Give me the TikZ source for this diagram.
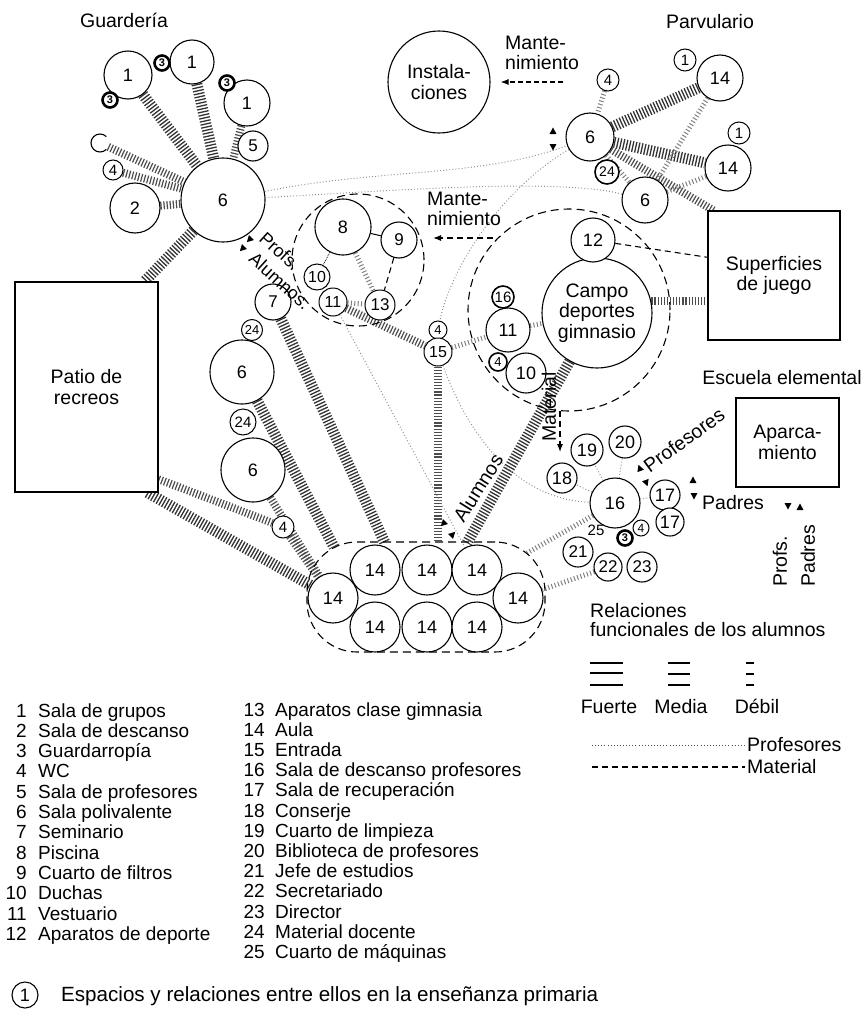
\documentclass[tikz,border=0pt]{standalone}
\usepackage{fontspec}
\setmainfont{Liberation Sans}
\usetikzlibrary{arrows.meta,calc}
\pgfdeclarelayer{bg}
\pgfsetlayers{bg,main}
\newcommand\labfont{\fontsize{19.5}{20.5}\selectfont}
\newcommand\mytri[2]{\fill[shift={(#1)},rotate=#2] (90:4.5pt)--(210:4pt)--(330:4pt)--cycle;}
\tikzset{
  rm/.style={circle,draw,fill=white,inner sep=0pt,line width=1.1pt,font=\fontsize{18}{18}\selectfont},
  rmid/.style={rm,font=\fontsize{17}{17}\selectfont},
  rsm/.style={rm,line width=1pt,font=\fontsize{15}{15}\selectfont},
  thr/.style={circle,draw,fill=white,inner sep=0pt,line width=2.6pt,minimum size=15pt,font=\bfseries\fontsize{11}{11}\selectfont},
  boxn/.style={draw,line width=1.1pt,align=center,font=\labfont,fill=white},
  lab/.style={font=\labfont,align=center,inner sep=0pt},
  hs/.style={line width=11pt,dash pattern=on 1.3pt off 1.8pt,draw=black!80},
  hm/.style={line width=8pt,dash pattern=on 1.2pt off 1.9pt,draw=black!70},
  hw/.style={line width=5pt,dash pattern=on 1pt off 2.4pt,draw=black!50},
  prof/.style={line width=1pt,dash pattern=on 0.9pt off 2.2pt,draw=black!45},
  mat/.style={line width=1.1pt,dash pattern=on 6pt off 4pt},
  env/.style={draw,line width=1.1pt,dash pattern=on 8pt off 5pt},
  tip/.style={-{Latex[length=8pt,width=6pt]}},
  lst/.style={font=\fontsize{19}{20}\selectfont,inner sep=0pt},
}
\begin{document}
\begin{tikzpicture}[x=1pt,y=-1pt]
\useasboundingbox (0,0) rectangle (867,1017);
% titles
\node[lab] (tguard) at (124,20) {Guardería};
\node[lab] (tparv) at (710,22) {Parvulario};
\node[lab] (tesc) at (782,378) {Escuela elemental};

% Guarderia
\node[rm,minimum size=48pt] (g1a) at (128,75) {1};
\node[rm,minimum size=44pt] (g1b) at (192,62) {1};
\node[rm,minimum size=46pt] (g1c) at (247,103) {1};
\node[thr] (g3a) at (162,63) {3};
\node[thr] (g3b) at (110,100) {3};
\node[thr] (g3c) at (227,83) {3};
\node[circle,inner sep=0pt,minimum size=18pt] (garc) at (100,143) {};
\draw[line width=1.1pt] ([shift={(45:9pt)}]garc.center) arc[start angle=45,end angle=315,radius=9pt];
\node[rsm,minimum size=20pt] (g4) at (113,170) {4};
\node[rmid,minimum size=30pt] (g5) at (253,146) {5};
\node[rm,minimum size=50pt] (g2) at (135,208) {2};
\node[rm,minimum size=84pt] (g6) at (223,200) {6};
\node[boxn,minimum width=143pt,minimum height=210pt] (patio) at (86.5,387) {Patio de\\recreos};

% middle column
\node[rmid,minimum size=36pt] (n7) at (273,302) {7};
\node[rsm,minimum size=21pt,font=\fontsize{13}{13}\selectfont] (n24a) at (252,330) {24};
\node[rm,minimum size=64pt] (g6c) at (242,372) {6};
\node[rsm,minimum size=26pt] (n24b) at (243,422) {24};
\node[rm,minimum size=64pt] (g6d) at (253,470) {6};
\node[rsm,minimum size=22pt] (n4m) at (283,527) {4};

% pool
\node[env,circle,minimum size=132pt] (poold) at (358,260) {};
\node[rm,minimum size=56pt] (n8) at (343,227) {8};
\node[rmid,minimum size=36pt] (n9) at (399,240) {9};
\node[rsm,minimum size=26pt,font=\fontsize{16}{16}\selectfont] (n10) at (317,277) {10};
\node[rsm,minimum size=28pt,font=\fontsize{16}{16}\selectfont] (n11) at (333,302) {11};
\node[rsm,minimum size=30pt,font=\fontsize{17}{17}\selectfont] (n13) at (380,305) {13};
\node[lab,rotate=-42,font=\fontsize{18}{18}\selectfont] (lprofs) at (280,251) {Profs.};
\node[lab,rotate=-42,font=\fontsize{18}{18}\selectfont] (lalum) at (280,281) {Alumnos.};
\mytri{250,239}{135}
\mytri{243,248}{135}

% Instalaciones
\node[rm,minimum size=102pt,font=\labfont,align=center] (inst) at (439,82) {Instala-\\ciones};
\node[lab,align=left,anchor=west] (lmant1) at (505,53) {Mante-\\nimiento};
\coordinate (ma1) at (563,82);
\draw[mat,tip,dash pattern=on 5pt off 3pt] (ma1) -- ([xshift=10pt]inst.east);
\node[lab,align=left,anchor=west] (lmant2) at (427,209) {Mante-\\nimiento};
\coordinate (ma2s) at (493,238);
\coordinate (ma2t) at (433,238);
\draw[mat,tip] (ma2s) -- (ma2t);

% Parvulario
\node[rsm,minimum size=22pt] (pv1a) at (685,60) {1};
\node[rm,minimum size=46pt] (pvk1) at (720,78) {14};
\node[rsm,minimum size=22pt] (pv4) at (608,80) {4};
\node[rm,minimum size=48pt] (pv6) at (590,137) {6};
\node[rsm,minimum size=22pt] (pv1b) at (739,133) {1};
\node[rm,minimum size=46pt] (pvk2) at (728,168) {14};
\node[rsm,minimum size=24pt,line width=1.6pt,font=\fontsize{14}{14}\selectfont] (pv24) at (607,172) {24};
\node[rm,minimum size=46pt] (pv6b) at (645,200) {6};
\node[boxn,minimum width=132pt,minimum height=129pt] (sup) at (774,275.5) {Superficies\\de juego};
\mytri{553,132}{0}
\mytri{553,146}{180}

% Campo
\node[env,circle,minimum size=202pt] (campd) at (569,310) {};
\node[rm,minimum size=110pt,font=\labfont,align=center] (campo) at (597,313) {Campo\\deportes\\gimnasio};
\node[rm,minimum size=44pt] (cn12) at (593,240) {12};
\node[rsm,minimum size=22pt,line width=1.6pt] (cn16) at (503,297) {16};
\node[rm,minimum size=44pt] (cn11) at (508,330) {11};
\node[rsm,minimum size=18pt,line width=1.6pt,font=\fontsize{13}{13}\selectfont] (cn4) at (498,362) {4};
\node[rm,minimum size=40pt] (cn10) at (526,373) {10};

% Entrada
\node[rsm,minimum size=18pt,font=\fontsize{13}{13}\selectfont] (n4e) at (438,330) {4};
\node[rsm,minimum size=28pt,font=\fontsize{16}{16}\selectfont] (n15) at (438,352) {15};

% Aulas cluster
\node[env,rounded corners=50pt,minimum width=238pt,minimum height=110pt] (clu) at (426,597) {};
\foreach \nm/\px/\py in {ka/375/570,kb/427/570,kc/477/570,kl/333/598,kr/518/598,kd/375/627,ke/427/627,kf/477/627}
  \node[rm,minimum size=50pt] (\nm) at (\px,\py) {14};

% Administration
\node[rm,minimum size=32pt] (n19) at (587,450) {19};
\node[rm,minimum size=32pt] (n20) at (625,442) {20};
\node[rm,minimum size=30pt] (n18) at (562,478) {18};
\node[rm,minimum size=50pt] (n16) at (615,503) {16};
\node[rm,minimum size=30pt] (n17a) at (665,495) {17};
\node[rm,minimum size=28pt] (n17b) at (670,522) {17};
\node[lab,font=\fontsize{15}{15}\selectfont] (t25) at (596,530) {25};
\node[thr] (n3r) at (625,538) {3};
\node[rsm,minimum size=16pt,font=\fontsize{12}{12}\selectfont] (n4r) at (641,528) {4};
\node[rmid,minimum size=30pt] (n21) at (578,552) {21};
\node[rmid,minimum size=28pt] (n22) at (608,567) {22};
\node[rmid,minimum size=30pt] (n23) at (642,567) {23};

% labels right
\node[lab,rotate=90] (lmat) at (549,407) {Material};
\coordinate (mt1) at (560,411);
\coordinate (mt2) at (560,452);
\draw[mat,tip] (mt1) -- (mt2);
\node[lab,rotate=36] (lprofe) at (684,440) {Profesores};
\mytri{640,469}{20}
\mytri{646,482}{200}
\node[lab,anchor=west] (lpad) at (702,503) {Padres};
\mytri{693,481}{0}
\mytri{694,495}{180}
\node[boxn,minimum width=103pt,minimum height=89pt] (apa) at (787.5,442.5) {Aparca-\\miento};
\mytri{788,505}{180}
\mytri{800,508}{0}
\node[lab,rotate=90,anchor=west] (lprofs2) at (780,587) {Profs.};
\node[lab,rotate=90,anchor=west] (lpad2) at (808,587) {Padres};
\node[lab,rotate=58] (lalum2) at (478,488) {Alumnos};
\mytri{444,523}{135}
\mytri{452,535}{-45}

% connectors
\begin{pgfonlayer}{bg}
\draw[hs] (g1a) -- (g6);
\draw[hs] (g1b) -- (g6);
\draw[hm] (g1c) -- (g6);
\draw[hm] (garc) -- (g6);
\draw[hm] (g4) -- (g6);
\draw[hm] (g2) -- (g6);
\draw[hs] (g6) -- ([xshift=-14pt]patio.north east);
\coordinate (e1) at (385,543);
\coordinate (e2) at (334,547);
\coordinate (e5) at (467,543);
\coordinate (e6) at (527,553);
\draw[hs] (n7) -- (e1);
\draw[hs] (g6c) -- (e2);
\draw[hm] (g6d) -- (kl);
\draw[hm] (patio.-52) -- (n4m);
\draw[hm] (n4m) -- (kl);
\draw[hs] (patio.-60) -- (kl);
\draw[line width=1pt] (n8) -- (n9);
\draw[line width=0.8pt,densely dotted] (n8) -- (n10);
\draw[hw] (n8) -- (n13);
\draw[mat] (n9) -- (n13);
\draw[hw] (n11) -- (n13);
\draw[hm] (n11) -- (n15);
\draw[hm] (n15) -- (n15 |- clu.north);
\draw[hm] (campo.12) -- (campo.12 -| sup.west);
\draw[hs] (campo) -- (e5);
\draw[hw] (cn11) -- (campo);
\draw[hw] (n15) -- (cn11);
\draw[mat] (cn12) -- ($(sup.north west)!0.36!(sup.south west)$);
\draw[hs] (pv6) -- (pvk1);
\draw[hs] (pv6) -- (pvk2);
\draw[hm] (pv6) -- ([xshift=6pt]sup.north west);
\draw[hw] (pv4) -- (pv6);
\draw[hw] (pvk1) -- (pv6b);
\draw[hw] (pv6b) -- (pvk2);
\draw[hw] (pv6) -- (pv6b);
\draw[hw] (n16) -- (e6);
\draw[hw] (n22) -- (kr);
\draw[prof] (g6) .. controls (380,168) and (480,178) .. (pv6);
\draw[prof] (g6) .. controls (400,190) and (560,178) .. (pv6b);
\draw[prof] (pv6) .. controls (500,190) and (450,270) .. (n4e);
\draw[prof] (n15) .. controls (470,440) and (520,500) .. (n16);
\draw[prof] (n11) -- (kc);
\draw[prof] (n16) -- (n18);
\draw[prof] (n16) -- (n17a);
\draw[prof] (n16) -- (n20);
\draw[prof] (n16) -- (n19);
\end{pgfonlayer}

% legend
\node[lab,anchor=base west] (lrel1) at (590,617) {Relaciones};
\node[lab,anchor=base west] (lrel2) at (590,636) {funcionales de los alumnos};
\draw[line width=1.4pt] (590,663) -- (623,663);
\draw[line width=2.4pt] (590,673) -- (623,673);
\draw[line width=1.4pt] (590,685) -- (623,685);
\draw[line width=1.2pt] (668,663) -- (690,663);
\draw[line width=1.2pt] (668,674) -- (690,674);
\draw[line width=1.2pt] (668,685) -- (690,685);
\draw[line width=1.2pt] (746,663) -- (754,663);
\draw[line width=1.2pt] (746,674) -- (754,674);
\draw[line width=1.2pt] (746,685) -- (754,685);
\node[lab,anchor=base] (lfu) at (609,713) {Fuerte};
\node[lab,anchor=base] (lme) at (681,713) {Media};
\node[lab,anchor=base] (ldeb) at (757,713) {Débil};
\coordinate (lp1) at (592,745);
\coordinate (lp2) at (745,745);
\draw[prof,draw=black!70] (lp1) -- (lp2);
\node[lab,anchor=west] (lprof) at (747,745) {Profesores};
\coordinate (lm1) at (592,767);
\coordinate (lm2) at (745,767);
\draw[mat] (lm1) -- (lm2);
\node[lab,anchor=west] (lmatl) at (747,767) {Material};

% list
\foreach \n/\t [count=\i from 0] in {1/Sala de grupos,2/Sala de descanso,3/Guardarropía,4/WC,5/Sala de profesores,6/Sala polivalente,7/Seminario,8/Piscina,9/Cuarto de filtros,10/Duchas,11/Vestuario,12/Aparatos de deporte}{
  \node[lst,anchor=base east] (ln\n) at (27,717+20.3*\i) {\n};
  \node[lst,anchor=base west] (lt\n) at (38,717+20.3*\i) {\t};
}
\foreach \n/\t [count=\i from 0] in {13/Aparatos clase gimnasia,14/Aula,15/Entrada,16/Sala de descanso profesores,17/Sala de recuperación,18/Conserje,19/Cuarto de limpieza,20/Biblioteca de profesores,21/Jefe de estudios,22/Secretariado,23/Director,24/Material docente,25/Cuarto de máquinas}{
  \node[lst,anchor=base east] (ln\n) at (265,716+20.2*\i) {\n};
  \node[lst,anchor=base west] (lt\n) at (275,716+20.2*\i) {\t};
}
\node[rm,minimum size=26pt] (fc) at (25,995) {1};
\node[lab,anchor=west,font=\fontsize{20.6}{22}\selectfont] (ftxt) at (61,996) {Espacios y relaciones entre ellos en la enseñanza primaria};
\end{tikzpicture}
\end{document}
